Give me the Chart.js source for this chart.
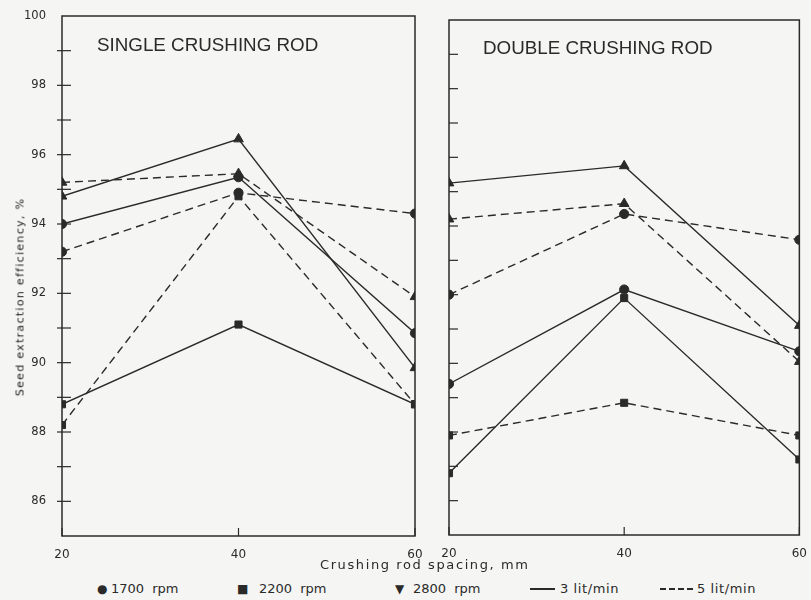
<!DOCTYPE html>
<html>
<head>
<meta charset="utf-8">
<script src="https://cdn.jsdelivr.net/npm/chart.js@4.4.1/dist/chart.umd.min.js"></script>
<style>
  html, body { margin:0; padding:0; background:#f5f5f3; }
  body { width:811px; height:600px; position:relative; overflow:hidden; font-family:"DejaVu Sans", sans-serif; color:#2a2a2a; }
  canvas { position:absolute; }
  .ptitle { position:absolute; font-family:"Liberation Sans", Arial, sans-serif; font-size:18.8px; line-height:1; white-space:nowrap; color:#2a2a2a; }
  #xtitle { position:absolute; left:320px; top:557px; font-size:13px; letter-spacing:1.6px; white-space:nowrap; }
  #ytitle { position:absolute; left:20px; top:297px; font-size:11px; letter-spacing:1.3px; white-space:nowrap; color:#222; transform:translate(-50%,-50%) rotate(-90deg); }
  .leg { position:absolute; top:581px; font-size:13px; white-space:nowrap; line-height:16px; }
  .sw { position:absolute; top:588px; height:1.5px; background:#2a2a2a; }
  .sw.dash { background:repeating-linear-gradient(to right, #2a2a2a 0 6px, transparent 6px 9px); }
</style>
</head>
<body>
<canvas id="left" width="430" height="560" style="left:0;top:0;width:430px;height:560px"></canvas>
<canvas id="right" width="391" height="560" style="left:420px;top:0;width:391px;height:560px"></canvas>
<div class="ptitle" id="t1" style="left:97px;top:36px"></div>
<div class="ptitle" id="t2" style="left:483px;top:39px"></div>
<div id="xtitle"></div>
<div id="ytitle"></div>
<div id="legend"></div>
<script>
// ---- data ----
const spacing = [20, 40, 60];
const panelTitles = ["SINGLE CRUSHING ROD", "DOUBLE CRUSHING ROD"];
const xTitle = "Crushing rod spacing, mm";
const yTitle = "Seed extraction efficiency, %";
const rpmLabels = ["1700 rpm", "2200 rpm", "2800 rpm"];
const flowLabels = ["3 lit/min", "5 lit/min"];

// single crushing rod
const single1700_3 = [94.0, 95.35, 90.85];
const single1700_5 = [93.2, 94.9, 94.3];
const single2200_3 = [88.8, 91.1, 88.8];
const single2200_5 = [88.2, 94.8, 88.8];
const single2800_3 = [94.8, 96.45, 89.85];
const single2800_5 = [95.2, 95.45, 91.9];
// double crushing rod
const double1700_3 = [89.4, 92.15, 90.35];
const double1700_5 = [92.0, 94.35, 93.6];
const double2200_3 = [86.8, 91.9, 87.2];
const double2200_5 = [87.9, 88.85, 87.9];
const double2800_3 = [95.25, 95.75, 91.1];
const double2800_5 = [94.2, 94.65, 90.05];

// ---- styles ----
const INK = '#2a2a2a';
const markers = ['circle', 'rect', 'triangle'];
const markerRadius = [4.6, 5, 5.6];
const dashes = [[], [8, 5]];

function ds(arr, rpmIdx, flowIdx) {
  return {
    label: rpmLabels[rpmIdx] + ' ' + flowLabels[flowIdx],
    data: spacing.map((x, i) => ({ x: x, y: arr[i] })),
    borderColor: INK, backgroundColor: INK,
    borderWidth: 1.4, borderDash: dashes[flowIdx],
    pointStyle: markers[rpmIdx], pointRadius: markerRadius[rpmIdx],
    pointBorderWidth: 1, tension: 0, fill: false
  };
}

const framePlugin = {
  id: 'frame',
  afterDraw(chart, args, opts) {
    const { ctx, chartArea: a, scales: { x, y } } = chart;
    ctx.save();
    ctx.strokeStyle = INK;
    ctx.lineWidth = 1.5;
    ctx.strokeRect(a.left, a.top, a.right - a.left, a.bottom - a.top);
    ctx.lineWidth = 1.2;
    y.ticks.forEach(t => {
      const py = y.getPixelForValue(t.value);
      if (py <= a.top + 1 || py >= a.bottom - 1) return;
      ctx.beginPath(); ctx.moveTo(a.left - opts.out, py); ctx.lineTo(a.left + opts.inn, py); ctx.stroke();
    });
    x.ticks.forEach(t => {
      const px = x.getPixelForValue(t.value);
      ctx.beginPath(); ctx.moveTo(px, a.bottom); ctx.lineTo(px, a.bottom - 8); ctx.stroke();
    });
    ctx.restore();
  }
};

function makeChart(id, datasets, showY, padding, out) {
  return new Chart(document.getElementById(id), {
    type: 'line',
    data: { datasets: datasets },
    plugins: [framePlugin],
    options: {
      responsive: false, animation: false,
      layout: { padding: padding },
      plugins: { legend: { display: false }, tooltip: { enabled: false }, frame: { inn: 9, out: out } },
      scales: {
        x: {
          type: 'linear', min: 20, max: 60,
          ticks: { stepSize: 20, color: INK, padding: 4, font: { family: 'DejaVu Sans', size: 12 } },
          grid: { display: false }, border: { display: false },
          afterFit: s => { s.height = 24; }
        },
        y: {
          display: showY,
          min: 85, max: 100,
          ticks: {
            stepSize: 1, autoSkip: false, color: INK, padding: 8,
            font: { family: 'DejaVu Sans', size: 11.5 },
            callback: v => (v % 2 === 0 ? String(v) : '')
          },
          grid: { display: false }, border: { display: false },
          afterFit: s => { s.width = showY ? 45 : 0; }
        }
      }
    }
  });
}

makeChart('left', [
  ds(single1700_3, 0, 0), ds(single1700_5, 0, 1),
  ds(single2200_3, 1, 0), ds(single2200_5, 1, 1),
  ds(single2800_3, 2, 0), ds(single2800_5, 2, 1)
], true, { left: 17, right: 15, top: 16, bottom: 0 }, 5);

makeChart('right', [
  ds(double1700_3, 0, 0), ds(double1700_5, 0, 1),
  ds(double2200_3, 1, 0), ds(double2200_5, 1, 1),
  ds(double2800_3, 2, 0), ds(double2800_5, 2, 1)
], false, { left: 29, right: 9, top: 20, bottom: 1 }, 0);

document.getElementById('t1').textContent = panelTitles[0];
document.getElementById('t2').textContent = panelTitles[1];
document.getElementById('xtitle').textContent = xTitle;
document.getElementById('ytitle').textContent = yTitle;

// ---- legend ----
const legend = document.getElementById('legend');
const rpmGlyphs = ['\u25CF', '\u25A0', '\u25BC'];
const rpmGlyphX = [97, 237, 395];
const rpmTextX = [111, 259, 413];
rpmLabels.forEach((lab, i) => {
  const g = document.createElement('span');
  g.className = 'leg'; g.style.left = rpmGlyphX[i] + 'px'; g.style.fontSize = '12px';
  g.style.top = '581px';
  g.textContent = rpmGlyphs[i];
  legend.appendChild(g);
  const t = document.createElement('span');
  t.className = 'leg'; t.style.left = rpmTextX[i] + 'px'; t.style.wordSpacing = '4px';
  t.textContent = lab;
  legend.appendChild(t);
});
const swX = [[530, 25], [660, 33]];
const flowTextX = [560, 697];
flowLabels.forEach((lab, i) => {
  const s = document.createElement('div');
  s.className = i === 1 ? 'sw dash' : 'sw';
  s.style.left = swX[i][0] + 'px'; s.style.width = swX[i][1] + 'px';
  legend.appendChild(s);
  const t = document.createElement('span');
  t.className = 'leg'; t.style.left = flowTextX[i] + 'px'; t.style.letterSpacing = '0.6px';
  t.textContent = lab;
  legend.appendChild(t);
});
</script>
</body>
</html>
